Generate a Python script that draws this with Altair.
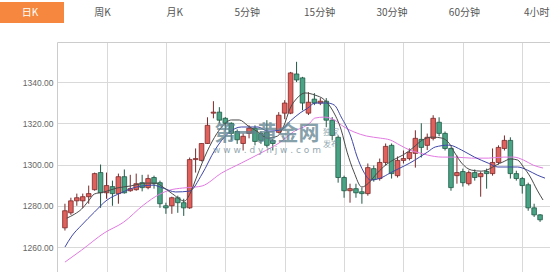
import altair as alt
import pandas as pd

# ---------------- data ----------------
idx = list(range(1, 82))
opens = [1269.3, 1276.6, 1282.4, 1282.4, 1284.4, 1287.8, 1296.1, 1286.3, 1289.3, 1285.9,
         1294.1, 1287.3, 1287.8, 1291.2, 1288.8, 1293.7, 1291.2, 1280.0, 1280.0, 1283.9,
         1281.5, 1279.0, 1302.4, 1302.0, 1310.2, 1324.9, 1325.4, 1322.4, 1320.0, 1316.0,
         1310.2, 1315.1, 1317.6, 1315.1, 1315.6, 1311.7, 1315.6, 1324.9, 1324.9, 1343.9,
         1342.0, 1324.9, 1331.7, 1329.8, 1330.7, 1321.5, 1313.2, 1293.7, 1287.3, 1288.3,
         1286.8, 1285.9, 1298.0, 1293.2, 1301.0, 1309.3, 1294.6, 1302.0, 1302.9, 1305.4,
         1312.2, 1309.3, 1312.7, 1320.5, 1315.1, 1307.8, 1294.6, 1296.6, 1290.7, 1296.1,
         1294.1, 1296.6, 1295.6, 1301.0, 1307.8, 1311.7, 1295.6, 1293.2, 1290.2, 1279.0,
         1275.6]
highs = [1281.0, 1283.9, 1285.9, 1285.9, 1289.8, 1296.1, 1300.0, 1296.1, 1292.2, 1295.6,
         1297.6, 1295.0, 1295.6, 1295.0, 1295.1, 1294.6, 1292.2, 1281.5, 1284.4, 1284.9,
         1283.4, 1303.4, 1307.8, 1310.2, 1322.9, 1330.7, 1327.8, 1323.0, 1320.5, 1317.0,
         1315.1, 1319.0, 1319.0, 1316.0, 1321.5, 1312.5, 1325.4, 1331.2, 1344.9, 1349.8,
         1342.5, 1335.1, 1334.6, 1332.2, 1332.2, 1323.0, 1314.1, 1294.6, 1290.7, 1290.7,
         1288.8, 1300.5, 1299.5, 1302.9, 1310.2, 1310.2, 1303.9, 1306.8, 1307.8, 1316.6,
         1320.0, 1315.0, 1323.9, 1322.9, 1316.0, 1308.3, 1304.4, 1298.0, 1297.1, 1297.6,
         1296.6, 1298.0, 1307.8, 1309.3, 1314.1, 1313.2, 1297.0, 1294.0, 1291.2, 1281.0,
         1276.0]
lows = [1268.0, 1275.6, 1280.0, 1279.0, 1281.0, 1287.3, 1279.0, 1283.4, 1280.0, 1281.0,
        1285.9, 1286.8, 1287.3, 1287.0, 1288.0, 1288.3, 1279.0, 1276.1, 1276.1, 1276.6,
        1275.1, 1278.5, 1296.1, 1301.5, 1310.0, 1322.4, 1320.0, 1316.6, 1311.7, 1310.0,
        1306.8, 1312.7, 1309.3, 1310.0, 1308.3, 1306.8, 1315.1, 1322.0, 1324.4, 1340.0,
        1326.3, 1324.0, 1328.8, 1328.8, 1318.1, 1311.7, 1291.2, 1283.9, 1281.5, 1283.9,
        1281.0, 1284.9, 1291.7, 1292.2, 1299.5, 1293.2, 1293.7, 1300.5, 1302.0, 1298.5,
        1303.4, 1307.0, 1311.7, 1313.7, 1306.8, 1287.3, 1290.7, 1289.3, 1289.8, 1292.2,
        1284.4, 1288.3, 1294.6, 1300.0, 1306.8, 1293.2, 1292.2, 1285.9, 1277.6, 1274.6,
        1272.2]
closes = [1277.6, 1282.4, 1283.9, 1284.4, 1285.9, 1295.6, 1286.3, 1289.8, 1285.9, 1294.1,
          1286.3, 1288.3, 1290.7, 1288.8, 1293.2, 1290.7, 1281.0, 1279.0, 1283.9, 1281.5,
          1279.0, 1302.4, 1302.9, 1310.2, 1319.0, 1325.4, 1321.5, 1320.0, 1315.1, 1312.0,
          1313.7, 1317.6, 1311.2, 1311.7, 1309.3, 1310.2, 1323.9, 1329.8, 1344.4, 1341.0,
          1329.8, 1330.2, 1329.8, 1330.7, 1321.5, 1314.1, 1293.7, 1287.3, 1288.3, 1286.3,
          1285.9, 1298.5, 1292.7, 1301.0, 1308.8, 1295.6, 1302.0, 1302.9, 1305.9, 1312.7,
          1308.3, 1313.2, 1322.4, 1315.1, 1307.8, 1288.8, 1296.1, 1291.2, 1296.1, 1293.7,
          1295.6, 1295.6, 1301.0, 1308.3, 1311.7, 1295.6, 1293.2, 1289.8, 1279.0, 1275.6,
          1273.2]

# moving-average lines (candle position, price)
ma5_i = [1.3, 2.65, 3.8, 4.96, 5.95, 7.6, 9.74, 12.05, 14.69, 16.34, 17.5, 19.14, 21.12, 22.11,
         23.1, 24.09, 25.74, 27.39, 29.04, 30.36, 31.85, 33.5, 35.14, 36.79, 37.78, 38.94,
         40.09, 41.41, 43.06, 44.71, 46.03, 47.52, 48.51, 49.66, 50.98, 52.13, 53.29, 54.61,
         56.26, 57.91, 59.56, 61.21, 62.86, 64.51, 65.66, 66.65, 67.8, 69.45, 71.1, 72.42,
         73.58, 74.73, 76.05, 77.21, 78.2, 79.35, 80.51, 81.5]
ma5_v = [1274.0, 1276.0, 1278.4, 1282.3, 1285.7, 1286.7, 1288.6, 1289.6, 1291.0, 1291.0, 1289.1,
         1285.7, 1282.3, 1286.2, 1293.4, 1300.7, 1310.9, 1318.2, 1321.6, 1321.6, 1318.7, 1315.8,
         1312.8, 1313.8, 1318.2, 1327.4, 1332.2, 1334.7, 1333.7, 1331.3, 1326.4, 1316.7, 1306.0,
         1296.4, 1289.1, 1291.0, 1294.9, 1298.8, 1302.2, 1304.6, 1308.0, 1311.9, 1313.3, 1312.8,
         1310.4, 1305.6, 1300.7, 1297.3, 1296.8, 1297.8, 1299.7, 1301.2, 1302.7, 1302.2, 1298.8,
         1294.0, 1287.6, 1282.8]
ma10_i = [1.0, 2.15, 3.8, 5.95, 8.09, 10.4, 13.04, 15.85, 17.5, 19.64, 21.95, 24.09, 26.24,
          28.55, 30.69, 33.5, 35.14, 37.29, 38.94, 40.59, 41.91, 43.06, 45.21, 46.36, 47.52,
          49.17, 50.15, 51.31, 52.46, 54.11, 55.76, 57.41, 59.06, 60.71, 62.03, 63.35, 65.66,
          67.8, 69.95, 72.26, 73.91, 75.56, 77.21, 78.86, 80.51, 81.83]
ma10_v = [1260.0, 1265.3, 1270.6, 1276.9, 1282.8, 1286.2, 1289.1, 1290.0, 1288.6, 1286.7, 1287.1,
          1295.4, 1307.0, 1315.3, 1318.2, 1318.2, 1316.2, 1316.7, 1321.1, 1325.0, 1327.4, 1329.8,
          1329.8, 1328.8, 1323.0, 1313.3, 1304.1, 1296.4, 1292.5, 1293.4, 1295.9, 1298.3, 1300.7,
          1303.6, 1306.0, 1308.5, 1309.4, 1307.0, 1303.6, 1300.7, 1298.8, 1298.8, 1298.8, 1297.3,
          1294.9, 1293.4]
ma20_i = [1.0, 3.8, 7.6, 10.9, 14.2, 17.0, 18.65, 20.8, 22.94, 24.09, 27.39, 30.69, 33.99, 37.29,
          39.43, 42.24, 43.06, 44.71, 46.36, 48.01, 49.66, 51.8, 54.11, 55.76, 57.41, 59.06,
          60.71, 62.03, 64.51, 66.65, 69.45, 72.26, 74.9, 76.55, 78.2, 79.85, 81.5]
ma20_v = [1252.7, 1258.5, 1266.8, 1272.1, 1280.3, 1285.7, 1287.6, 1288.6, 1289.1, 1289.6, 1295.9,
          1300.7, 1305.6, 1310.9, 1315.8, 1320.1, 1322.5, 1323.0, 1321.6, 1318.2, 1315.8, 1313.8,
          1312.8, 1311.9, 1309.4, 1307.0, 1305.6, 1304.6, 1303.6, 1303.6, 1303.1, 1303.1, 1303.6,
          1303.6, 1302.2, 1299.7, 1298.3]

tabs = ["日K", "周K", "月K", "5分钟", "15分钟", "30分钟", "60分钟", "4小时"]
y_ticks = [1260, 1280, 1300, 1320, 1340]
x_grid = [8, 18, 28, 38, 48, 58, 68, 78]

# ---------------- build tables ----------------
df = pd.DataFrame({"i": idx, "open": opens, "high": highs, "low": lows, "close": closes})
df["dir"] = ["up" if c >= o else "down" for o, c in zip(opens, closes)]

W, H = 493, 230
xscale = alt.Scale(domain=[0.505, 81.83], nice=False, zero=False)
yscale = alt.Scale(domain=[1247.9, 1359.4], nice=False, zero=False)

x_axis = alt.Axis(orient="top", values=x_grid, grid=True, gridColor="#d9d9d9", gridWidth=1,
                  labels=False, ticks=False, domain=True, domainColor="#cccccc", title=None)
y_axis = alt.Axis(values=y_ticks, format=".2f", grid=True, gridColor="#d9d9d9", gridWidth=1,
                  ticks=False, domain=True, domainColor="#cccccc", labelColor="#666666",
                  labelFont="Liberation Sans", labelFontSize=8.5, labelPadding=4, title=None)


def X(field):
    return alt.X(field, scale=xscale, axis=x_axis)


def Y(field):
    return alt.Y(field, scale=yscale, axis=y_axis)


dir_dom = ["up", "down"]

wicks = alt.Chart(df).mark_rule(strokeWidth=1, clip=True).encode(
    x=X("i:Q"), y=Y("low:Q"), y2="high:Q",
    color=alt.Color("dir:N", scale=alt.Scale(domain=dir_dom, range=["#7a2a2a", "#1f5a46"]), legend=None),
)

bodies = alt.Chart(df).mark_bar(size=4.6, strokeWidth=0.8, clip=True).encode(
    x=X("i:Q"), y=Y("open:Q"), y2="close:Q",
    fill=alt.Fill("dir:N", scale=alt.Scale(domain=dir_dom, range=["#e0605c", "#4aa385"]), legend=None),
    stroke=alt.Stroke("dir:N", scale=alt.Scale(domain=dir_dom, range=["#7a2a2a", "#1f5a46"]), legend=None),
)


def ma_line(ii, vv, col):
    d = pd.DataFrame({"i": ii, "v": vv})
    return alt.Chart(d).mark_line(strokeWidth=1, interpolate="monotone", clip=True, color=col).encode(
        x=X("i:Q"), y=Y("v:Q"))


l20 = ma_line(ma20_i, ma20_v, "#e27ae2")
l10 = ma_line(ma10_i, ma10_v, "#3f47a8")
l5 = ma_line(ma5_i, ma5_v, "#4a4a4a")

one = pd.DataFrame({"k": [0]})
tab_bg = alt.Chart(one).mark_rect(color="#f5883e").encode(
    x=alt.value(-57), x2=alt.value(7), y=alt.value(-40), y2=alt.value(-19))

tab_layers = []
for k, name in enumerate(tabs):
    tab_layers.append(
        alt.Chart(pd.DataFrame({"t": [name]})).mark_text(
            font="Noto Sans CJK SC", fontSize=10, align="center", baseline="middle",
            color="#ffffff" if k == 0 else "#555555"
        ).encode(x=alt.value(-27 + 72.4 * k), y=alt.value(-29), text="t:N")
    )

wm1 = alt.Chart(pd.DataFrame({"t": ["第一黄金网"]})).mark_text(
    font="Noto Sans CJK SC", fontSize=21, fontWeight="bold", color="#5f8290", opacity=0.75,
    align="center", baseline="middle").encode(x=alt.value(210), y=alt.value(92), text="t:N")
wm2 = alt.Chart(pd.DataFrame({"t": ["w w w . d y h j w . c o m"]})).mark_text(
    font="DejaVu Sans", fontSize=9, color="#6f8c98", opacity=0.75,
    align="center", baseline="middle").encode(x=alt.value(210), y=alt.value(108), text="t:N")
wm3 = alt.Chart(pd.DataFrame({"t": ["独家"]})).mark_text(
    font="Noto Sans CJK SC", fontSize=8, color="#6f8c98", opacity=0.75,
    align="center", baseline="middle").encode(x=alt.value(274), y=alt.value(91), text="t:N")
wm4 = alt.Chart(pd.DataFrame({"t": ["发布"]})).mark_text(
    font="Noto Sans CJK SC", fontSize=8, color="#6f8c98", opacity=0.75,
    align="center", baseline="middle").encode(x=alt.value(274), y=alt.value(103), text="t:N")

chart = alt.layer(wicks, bodies, l20, l10, l5, wm1, wm2, wm3, wm4, tab_bg, *tab_layers).properties(
    width=W, height=H,
    autosize=alt.AutoSizeParams(type="none"),
    padding={"left": 57, "top": 42, "right": 0, "bottom": 0},
    background="#ffffff",
).configure_view(stroke=None)

chart.save("out.html", embed_options={"renderer": "svg", "actions": False})
